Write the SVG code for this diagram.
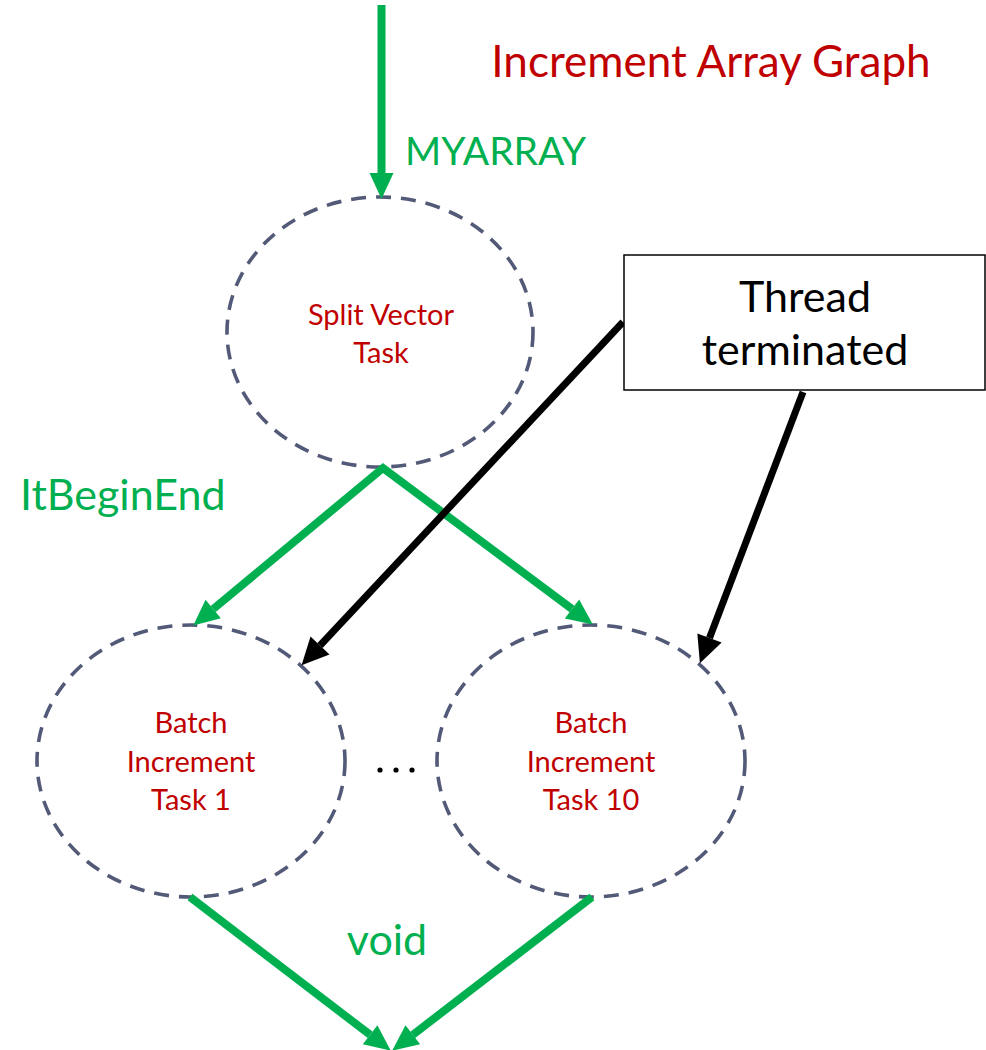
<svg xmlns="http://www.w3.org/2000/svg" width="986" height="1050" viewBox="0 0 986 1050">
  <style>
    .task { fill: #ffffff; stroke: #525A78; stroke-width: 3.6; stroke-dasharray: 15 10; }
    .task-label { font-family: Lato, "Liberation Sans", sans-serif; font-size: 29px; fill: #C00000; text-anchor: middle; }
    .edge-label { font-family: Lato, "Liberation Sans", sans-serif; fill: #00B050; }
    .title { font-family: Lato, "Liberation Sans", sans-serif; font-size: 44px; fill: #C00000; text-anchor: middle; }
    .flow { fill: none; stroke: #00B050; stroke-width: 8; }
    .pointer { fill: none; stroke: #000000; stroke-width: 7; }
    .note-box { fill: #ffffff; stroke: #000000; stroke-width: 1.5; }
    .note-text { font-family: Lato, "Liberation Sans", sans-serif; font-size: 43px; fill: #000000; text-anchor: middle; }
  </style>
  <defs>
    <marker id="head-green" viewBox="0 -12 26 24" refX="0" refY="0" markerWidth="26" markerHeight="24" markerUnits="userSpaceOnUse" orient="auto-start-reverse" overflow="visible">
      <path d="M0,-12 L26,0 L0,12 z" fill="#00B050"/>
    </marker>
    <marker id="head-black" viewBox="0 -13 27 26" refX="0" refY="0" markerWidth="27" markerHeight="26" markerUnits="userSpaceOnUse" orient="auto" overflow="visible">
      <path d="M0,-13 L27,0 L0,13 z" fill="#000000"/>
    </marker>
  </defs>

  <rect width="986" height="1050" fill="#ffffff"/>

  <text class="title" x="711" y="77">Increment Array Graph</text>

  <g id="split-vector-task">
    <ellipse class="task" cx="380" cy="332" rx="153" ry="135"/>
    <text class="task-label" x="381" y="325">Split Vector</text>
    <text class="task-label" x="381" y="363">Task</text>
  </g>

  <g id="batch-increment-task-1">
    <ellipse class="task" cx="191" cy="761" rx="154" ry="136"/>
    <text class="task-label" x="191" y="733">Batch</text>
    <text class="task-label" x="191" y="772">Increment</text>
    <text class="task-label" x="191" y="810">Task 1</text>
  </g>

  <g id="batch-increment-task-10">
    <ellipse class="task" cx="591" cy="761" rx="154" ry="136"/>
    <text class="task-label" x="591" y="733">Batch</text>
    <text class="task-label" x="591" y="772">Increment</text>
    <text class="task-label" x="591" y="810">Task 10</text>
  </g>

  <g id="ellipsis">
    <circle cx="380" cy="770" r="2.6" fill="#000000"/>
    <circle cx="396" cy="770" r="2.6" fill="#000000"/>
    <circle cx="412" cy="770" r="2.6" fill="#000000"/>
  </g>

  <g id="connectors">
    <!-- data flow -->
    <line class="flow" x1="381.5" y1="5" x2="381.5" y2="173" marker-end="url(#head-green)"/>
    <path class="flow" d="M213.2,609 L383,468 L572,609" stroke-linejoin="miter" marker-start="url(#head-green)" marker-end="url(#head-green)"/>
    <line class="flow" x1="190" y1="897" x2="370.1" y2="1034.8" marker-end="url(#head-green)"/>
    <line class="flow" x1="592" y1="897" x2="412.8" y2="1034.8" marker-end="url(#head-green)"/>
    <!-- thread termination pointers -->
    <line class="pointer" x1="623" y1="322" x2="320" y2="645.5" marker-end="url(#head-black)"/>
    <line class="pointer" x1="803" y1="392" x2="709.5" y2="638" marker-end="url(#head-black)"/>
  </g>

  <g id="edge-labels">
    <text class="edge-label" x="495.5" y="165" font-size="39" text-anchor="middle">MYARRAY</text>
    <text class="edge-label" x="20" y="510" font-size="43">ItBeginEnd</text>
    <text class="edge-label" x="387" y="955" font-size="43" text-anchor="middle">void</text>
  </g>

  <g id="thread-terminated">
    <rect class="note-box" x="624" y="255" width="361" height="135"/>
    <text class="note-text" x="805" y="312">Thread</text>
    <text class="note-text" x="805" y="365">terminated</text>
  </g>
</svg>
